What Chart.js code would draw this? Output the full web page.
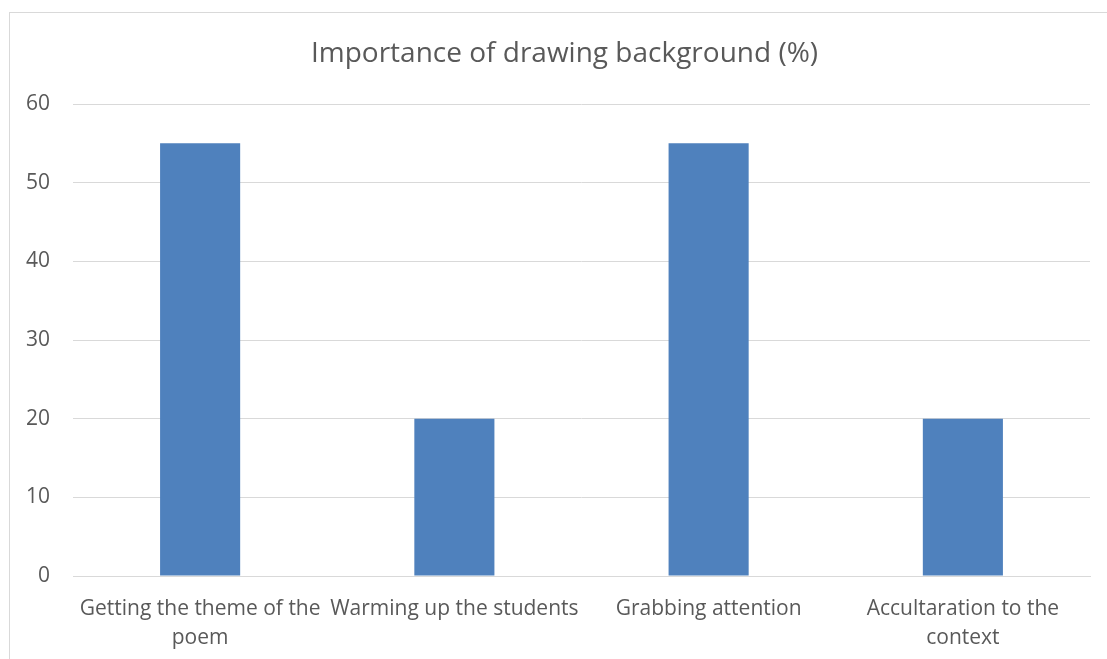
<!DOCTYPE html>
<html>
<head>
<meta charset="utf-8">
<script src="https://cdn.jsdelivr.net/npm/chart.js@4/dist/chart.umd.min.js"></script>
<style>
  html, body { margin: 0; padding: 0; background: #ffffff; overflow: hidden; }
  #frame { position: absolute; left: 9px; top: 12px; width: 1200px; height: 700px;
           border: 1px solid #d9d9d9; box-sizing: border-box; }
  #wrap { position: absolute; left: 0; top: 0; width: 1129px; height: 659px; }
</style>
</head>
<body>
<div id="frame"></div>
<div id="wrap"><canvas id="chart" width="1129" height="659"></canvas></div>
<script>
// Categories (multi-line labels) and percentage values
const categories = [
  ["Getting the theme of the", "poem"],
  "Warming up the students",
  "Grabbing attention",
  ["Accultaration to the", "context"]
];
const values = [55, 20, 55, 20];
const yTicks = [0, 10, 20, 30, 40, 50, 60];

const textColor = '#595959';
const gridColor = '#d9d9d9';

new Chart(document.getElementById('chart'), {
  type: 'bar',
  data: {
    labels: categories,
    datasets: [{
      data: values,
      backgroundColor: '#4f81bd',
      borderWidth: 0,
      barPercentage: 0.63,
      categoryPercentage: 0.5
    }]
  },
  options: {
    responsive: false,
    animation: false,
    layout: { padding: 0 },
    plugins: {
      legend: { display: false },
      tooltip: { enabled: false },
      title: {
        display: true,
        text: 'Importance of drawing background (%)',
        color: textColor,
        font: { family: 'Open Sans', size: 28, weight: 'normal', lineHeight: 1.2 },
        padding: { top: 37, bottom: 33.4 }
      }
    },
    scales: {
      x: {
        grid: { display: false, drawTicks: false },
        border: { display: true, color: gridColor, width: 1 },
        ticks: {
          color: textColor,
          font: { family: 'Open Sans', size: 21, lineHeight: 1.38 },
          maxRotation: 0, minRotation: 0, autoSkip: false, padding: 19
        },
        afterFit: (s) => { s.height = 83; }
      },
      y: {
        min: 0, max: 60,
        afterBuildTicks: (s) => { s.ticks = yTicks.map(v => ({ value: v })); },
        grid: { color: gridColor, lineWidth: 1, drawTicks: false },
        border: { display: false },
        ticks: {
          color: textColor,
          font: { family: 'Open Sans', size: 21 },
          padding: 23
        },
        afterFit: (s) => { s.width = 73; }
      },
      // empty right-hand margin so the plot ends inside the frame
      spacer: {
        type: 'linear',
        position: 'right',
        grid: { display: false, drawTicks: false },
        border: { display: false },
        ticks: { display: false },
        afterFit: (s) => { s.width = 39; }
      }
    }
  }
});
</script>
</body>
</html>
